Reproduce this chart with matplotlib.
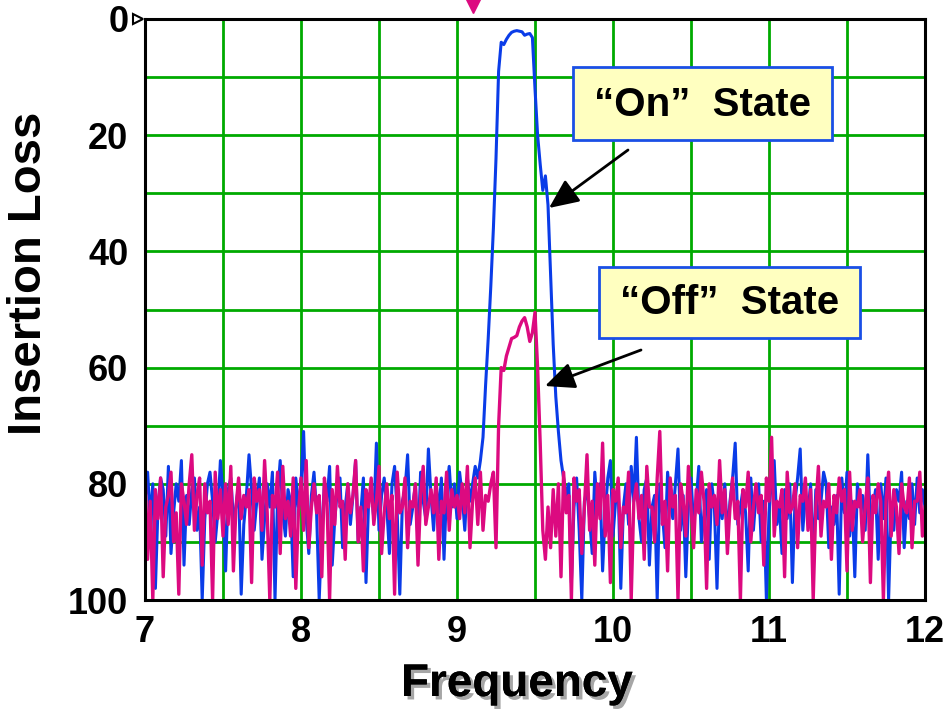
import numpy as np
import matplotlib
matplotlib.use("Agg")
import matplotlib.pyplot as plt
from matplotlib.patches import Rectangle, FancyArrowPatch
from matplotlib.transforms import blended_transform_factory
import matplotlib.patheffects as pe

# ---- data -------------------------------------------------------------
freq = np.linspace(7, 12, 301)          # GHz, one sample every 1/60 GHz

on_noise_low = [
    83, 78, 86, 80, 98, 84, 79, 81, 89, 77, 92, 85, 80, 83, 76, 94, 82, 87, 81, 79,
    88, 84, 100, 86, 80, 78, 83, 90, 85, 76, 82, 95, 81, 79, 86, 84, 80, 99, 87, 82,
    75, 81, 88, 83, 79, 93, 86, 80, 84, 78, 100, 82, 76, 85, 89, 81, 83, 96, 79, 84,
    80, 71, 86, 92, 82, 78, 85, 100, 88, 80, 83, 77, 94, 86, 81, 79, 91, 84, 80, 87,
    82, 76, 90, 85, 79, 97, 83, 81, 86, 73, 88, 82, 79, 84, 92, 80, 77, 85, 99, 83,
    81, 75, 87, 84, 80, 90, 78, 83, 86, 74, 82, 88, 80, 85, 79, 93, 81, 77, 84, 80,
    86, 78, 82, 88, 79, 83, 80, 77, 79,
]
on_passband = [
    76, 72, 63, 55, 46, 36, 24, 9, 4, 4.4, 3.5, 2.8, 2.3, 2.1, 2.0, 2.1, 2.2,
    2.8, 2.6, 2.5, 3.2, 12, 20, 25, 29.5, 27, 32, 44, 56, 65, 71, 76, 79,
]
on_noise_high = [
    82, 80, 97, 84, 79, 88, 100, 83, 81, 86, 92, 78, 84, 80, 95, 85, 79, 76, 89, 83,
    81, 98, 84, 80, 87, 77, 83, 72, 86, 90, 81, 79, 94, 84, 82, 100, 80, 85, 91, 78,
    83, 86, 80, 74, 88, 82, 96, 84, 79, 87, 83, 77, 90, 85, 81, 93, 80, 84, 98, 81,
    86, 80, 89, 83, 79, 73, 87, 84, 81, 85, 95, 79, 88, 82, 80, 90, 83, 100, 85, 79,
    76, 87, 84, 92, 81, 86, 80, 97, 83, 79, 74, 88, 82, 85, 80, 94, 81, 86, 83, 78,
    80, 91, 84, 87, 82, 99, 79, 85, 78, 89, 83, 96, 80, 84, 82, 88, 75, 87, 84, 81,
    93, 80, 86, 79, 100, 84, 88, 81, 83, 78, 91, 83, 86, 80, 87, 79, 85, 81, 84,
]

off_noise_low = [
    77, 93, 83, 100, 81, 86, 79, 96, 84, 82, 78, 90, 85, 99, 80, 83, 87, 80, 75, 88,
    82, 79, 94, 80, 85, 83, 100, 78, 86, 81, 89, 80, 87, 77, 95, 84, 79, 86, 82, 84,
    81, 97, 79, 83, 81, 88, 76, 85, 100, 82, 84, 78, 92, 77, 86, 83, 89, 79, 98, 85,
    79, 88, 76, 91, 84, 80, 85, 82, 96, 79, 83, 100, 81, 87, 77, 84, 83, 93, 80, 85,
    82, 76, 90, 84, 95, 81, 84, 79, 87, 83, 77, 92, 85, 80, 86, 82, 99, 78, 85, 84,
    79, 91, 83, 84, 80, 94, 82, 77, 87, 84, 81, 85, 79, 93, 83, 85, 78, 88, 81, 84,
    82, 86, 80, 85, 77, 91, 83, 79, 87, 78, 88, 82, 83, 80, 78,
]
off_passband = [
    91, 70, 60, 60.5, 58, 56.5, 55, 54.8, 54.5, 53, 52, 51.4, 53, 55.5, 54,
    50.5, 60, 73, 88, 93,
]
off_noise_high = [
    84, 91, 81, 89, 80, 96, 78, 85, 82, 100, 79, 83, 81, 92, 84, 75, 88, 83, 94, 80,
    86, 73, 89, 82, 97, 81, 83, 79, 91, 84, 85, 78, 100, 83, 80, 86, 82, 93, 77, 84,
    84, 90, 79, 71, 87, 83, 95, 79, 84, 82, 100, 80, 83, 89, 77, 84, 91, 81, 85, 78,
    83, 98, 80, 84, 82, 87, 76, 85, 81, 92, 84, 79, 86, 83, 100, 81, 84, 78, 90, 84,
    80, 85, 82, 94, 79, 83, 72, 89, 83, 84, 81, 96, 78, 85, 84, 80, 91, 82, 83, 79,
    88, 81, 100, 84, 77, 89, 83, 84, 80, 93, 82, 85, 79, 83, 81, 95, 78, 88, 83, 84,
    81, 90, 84, 79, 97, 82, 85, 80, 83, 100, 83, 78, 89, 81, 84, 92, 80, 84, 85, 79,
    91, 83, 83, 78, 89, 84,
]

on_state = np.array(on_noise_low + on_passband + on_noise_high, dtype=float)
off_state = np.array(off_noise_low + off_passband + off_noise_high, dtype=float)

x_ticks = [7, 8, 9, 10, 11, 12]
y_ticks = [0, 20, 40, 60, 80, 100]
marker_freq = 9.1

# ---- styling ----------------------------------------------------------
W, H = 953, 711
FONT = "Liberation Sans"
BLUE = "#0a3ce8"
MAGENTA = "#dc0a80"
GREEN = "#00aa00"

fig = plt.figure(figsize=(W / 100, H / 100), dpi=100)
ax = fig.add_axes([145 / W, 1 - 600 / H, 780 / W, 581 / H])


def fpos(px, py):
    """pixel position (from top-left) -> figure fraction"""
    return (px / W, 1 - py / H)


ax.plot(freq, np.clip(on_state, 0, 100), color=BLUE, lw=2.2, zorder=3)
ax.plot(freq, np.clip(off_state, 0, 100), color=MAGENTA, lw=2.4, zorder=4)

ax.set_xlim(7, 12)
ax.set_ylim(100, 0)
ax.set_xticks(np.arange(7, 12.01, 0.5), minor=True)
ax.set_yticks(np.arange(0, 101, 10), minor=True)
ax.set_xticks(x_ticks)
ax.set_yticks(y_ticks)
ax.set_xticklabels([str(v) for v in x_ticks])
ax.set_yticklabels([str(v) for v in y_ticks])
ax.grid(which="both", color=GREEN, lw=2.0, zorder=1)
ax.set_axisbelow(True)
ax.tick_params(which="both", length=0)
ax.tick_params(axis="x", pad=11)
ax.tick_params(axis="y", pad=12)
for lab in ax.get_xticklabels() + ax.get_yticklabels():
    lab.set_fontfamily(FONT)
    lab.set_fontweight("bold")
    lab.set_fontsize(26)
for sp in ax.spines.values():
    sp.set_color("black")
    sp.set_linewidth(2.2)
    sp.set_zorder(5)

fig.text(*fpos(517, 696), "Frequency", ha="center", va="baseline",
         fontfamily=FONT, fontweight="bold", fontsize=33,
         path_effects=[pe.withSimplePatchShadow(offset=(2.5, -2.5),
                                                shadow_rgbFace="#808080",
                                                alpha=0.7),
                       pe.Normal()])
fig.text(*fpos(29, 273), "Insertion Loss", ha="center", va="center",
         rotation=90, fontfamily=FONT, fontweight="bold", fontsize=34)

# small open pointer at the 0 dB reference
ax.plot([-0.009], [0], marker=">", ms=7, mfc="white", mec="black", mew=1.5,
        transform=blended_transform_factory(ax.transAxes, ax.transData),
        clip_on=False, zorder=6)
# frequency marker above the plot
ax.plot([marker_freq], [fpos(0, 6)[1]], marker="v", ms=10, color=MAGENTA,
        transform=blended_transform_factory(ax.transData, fig.transFigure),
        clip_on=False, zorder=6)

# callout boxes
callouts = [
    ("\u201cOn\u201d  State", (573, 67, 832, 140), (628, 150), (549, 208)),
    ("\u201cOff\u201d  State", (599, 267, 860, 338), (641, 350), (545, 386)),
]
for text, (x0, y0, x1, y1), tail, head in callouts:
    fig.patches.append(Rectangle(fpos(x0, y1), (x1 - x0) / W, (y1 - y0) / H,
                                 transform=fig.transFigure, facecolor="#ffffc0",
                                 edgecolor="#1a4fe6", lw=2.0, zorder=10))
    fig.text(*fpos((x0 + x1) / 2, (y0 + y1) / 2 + 1), text, ha="center",
             va="center", fontfamily=FONT, fontweight="bold", fontsize=29,
             zorder=11)
    fig.patches.append(FancyArrowPatch(fpos(*tail), fpos(*head),
                                       transform=fig.transFigure,
                                       arrowstyle="-|>,head_length=1.0,head_width=0.45",
                                       mutation_scale=18, color="black", lw=2.0,
                                       shrinkA=0, shrinkB=0, zorder=12))

fig.savefig("out.png", dpi=100)
